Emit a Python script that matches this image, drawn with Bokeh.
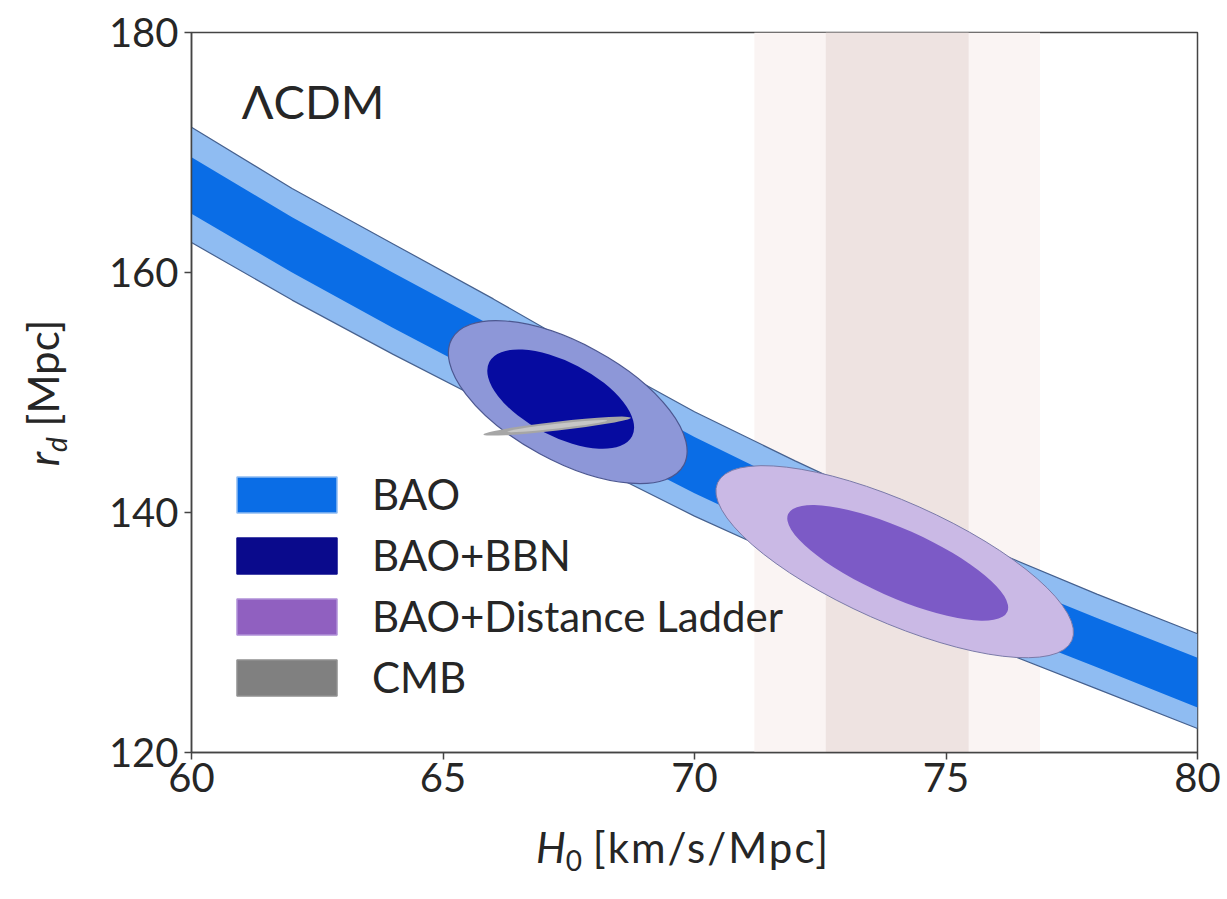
import numpy as np
from bokeh.plotting import figure
from bokeh.models import (ColumnDataSource, Label, BoxAnnotation, Legend, LegendItem,
                          Range1d, FixedTicker, Div)
from bokeh.layouts import row, column
from bokeh.embed import file_html
from bokeh.resources import INLINE

# ---------------- data ----------------
x_ticks = [60, 65, 70, 75, 80]
y_ticks = [120, 140, 160, 180]

# BAO band (H0 grid and the edges of the 1- and 2-sigma bands in rd)
h0_grid   = [60, 62, 64, 66, 68, 70, 72, 74, 76, 78, 80]
bao_2s_hi = [172.1, 167.0, 162.4, 157.8, 153.0, 148.4, 144.3, 140.4, 136.7, 133.2, 129.9]
bao_1s_hi = [169.6, 164.6, 160.0, 155.5, 150.8, 146.3, 142.2, 138.3, 134.6, 131.2, 127.9]
bao_1s_lo = [164.9, 160.0, 155.4, 151.0, 145.9, 141.6, 137.7, 133.9, 130.4, 127.1, 123.75]
bao_2s_lo = [162.5, 157.7, 153.2, 148.9, 143.9, 139.7, 135.9, 132.1, 128.6, 125.3, 122.0]

# confidence ellipses: [2-sigma, 1-sigma]
bbn_h0 = [67.48, 67.34]
bbn_rd = [149.2, 149.45]
bbn_w = [5.25, 3.2]
bbn_h = [9.8, 6.2]
bbn_ang = [-28.5, -27.5]

dl_h0 = [73.98, 74.04]
dl_rd = [135.9, 135.8]
dl_w = [7.71, 4.77]
dl_h = [10.0, 5.67]
dl_ang = [-24.0, -24.0]

cmb_h0 = [67.27, 67.27]
cmb_rd = [147.2, 147.2]
cmb_w = [2.95, 2.0]
cmb_h = [0.75, 0.40]
cmb_ang = [6.5, 6.5]

# distance ladder H0 (mean, sigma)
shoes_h0 = 74.03
shoes_sig = 1.42

legend_labels = ["BAO", "BAO+BBN", "BAO+Distance Ladder", "CMB"]

FONT = "Lato"
TXT = "#262626"

# ---------------- figure ----------------
p = figure(frame_width=1006, frame_height=720,
           x_range=Range1d(60, 80), y_range=Range1d(120, 180),
           output_backend="svg", toolbar_location=None,
           min_border_left=121, min_border_right=29,
           min_border_top=32, min_border_bottom=60, margin=0)
p.grid.visible = False
p.outline_line_color = "#444444"
p.outline_line_width = 1.5
p.background_fill_color = "white"

for ax in (p.xaxis[0], p.yaxis[0]):
    ax.axis_line_color = "#444444"
    ax.axis_line_width = 1.5
    ax.major_tick_line_color = "#444444"
    ax.major_tick_line_width = 1.5
    ax.major_tick_out = 7
    ax.major_tick_in = 0
    ax.minor_tick_line_color = None
    ax.major_label_text_font = FONT
    ax.major_label_text_font_size = "40px"
    ax.major_label_text_color = TXT
p.xaxis.ticker = FixedTicker(ticks=x_ticks)
p.yaxis.ticker = FixedTicker(ticks=y_ticks)
p.xaxis.major_label_standoff = 3
p.yaxis.major_label_standoff = 6

# distance ladder vertical bands
p.add_layout(BoxAnnotation(left=shoes_h0 - 2 * shoes_sig, right=shoes_h0 + 2 * shoes_sig,
                           fill_color="#faf4f3", fill_alpha=1, line_alpha=0, level="underlay"))
p.add_layout(BoxAnnotation(left=shoes_h0 - shoes_sig, right=shoes_h0 + shoes_sig,
                           fill_color="#eee3e1", fill_alpha=1, line_alpha=0, level="underlay"))

# BAO band
band = ColumnDataSource(dict(x=h0_grid, a=bao_2s_hi, b=bao_1s_hi, c=bao_1s_lo, d=bao_2s_lo))
p.varea(x="x", y1="d", y2="a", source=band, fill_color="#8fbcf2")
p.varea(x="x", y1="c", y2="b", source=band, fill_color="#0a6de6")
p.line(x="x", y="a", source=band, line_color="#46618f", line_width=1.2)
p.line(x="x", y="d", source=band, line_color="#46618f", line_width=1.2)


def ell(h0, rd, w, h, ang, i, fill, line=None, lw=1.0):
    src = ColumnDataSource(dict(x=[h0[i]], y=[rd[i]], w=[w[i]], h=[h[i]], a=[ang[i]]))
    p.ellipse(x="x", y="y", width="w", height="h", angle="a", angle_units="deg", source=src,
              fill_color=fill, line_color=line, line_width=lw)


# BAO + BBN
ell(bbn_h0, bbn_rd, bbn_w, bbn_h, bbn_ang, 0, "#8d97d8", "#4c5790", 1.2)
ell(bbn_h0, bbn_rd, bbn_w, bbn_h, bbn_ang, 1, "#060ba0")
# BAO + distance ladder
ell(dl_h0, dl_rd, dl_w, dl_h, dl_ang, 0, "#cab9e5", "#7a7aa8", 1.0)
ell(dl_h0, dl_rd, dl_w, dl_h, dl_ang, 1, "#7c5ac6")
# CMB
ell(cmb_h0, cmb_rd, cmb_w, cmb_h, cmb_ang, 0, "#a6a6a6")
ell(cmb_h0, cmb_rd, cmb_w, cmb_h, cmb_ang, 1, "#c6c6c6")

# legend proxies (one NaN row so the swatch is drawn but nothing lands in the frame)
leg_fill = ["#0a6de6", "#0a0a8c", "#9060c0", "#808080"]
leg_line = ["#8fbcf2", "#0a0a8c", "#b090d8", "#909090"]
items = []
for lab, fc, lc in zip(legend_labels, leg_fill, leg_line):
    r = p.quad(left=[np.nan], right=[np.nan], top=[np.nan], bottom=[np.nan],
               fill_color=fc, line_color=lc, line_width=1.5)
    items.append(LegendItem(label=lab, renderers=[r]))
legend = Legend(items=items, location=(33, 50), glyph_width=125, glyph_height=45,
                label_standoff=23, spacing=11, padding=0, margin=0,
                label_text_font=FONT, label_text_font_size="42px", label_text_color=TXT,
                background_fill_alpha=0, border_line_alpha=0)
p.add_layout(legend)

# model label
p.add_layout(Label(x=61.0, y=174.3, text="ΛCDM", text_font=FONT, text_font_size="47px",
                   text_color=TXT, text_baseline="middle"))

# ---------------- axis titles (HTML, for italic symbol + subscript) ----------------
base = f"font-family:{FONT};font-size:42px;color:{TXT};white-space:nowrap;line-height:1;"
sub = "font-size:28px;line-height:1;vertical-align:-0.3em;letter-spacing:0;"

xdiv = Div(width=1156, height=86, margin=0,
           text=(f'<div style="position:relative;width:1156px;height:86px;">'
                 f'<div style="position:absolute;left:466px;top:14px;{base}">'
                 f'<i>H</i><span style="{sub}">0</span> '
                 f'<span style="letter-spacing:2px;">[km/s/Mpc]</span></div></div>'))

ydiv = Div(width=70, height=898, margin=0,
           text=(f'<div style="position:relative;width:70px;height:898px;">'
                 f'<div style="position:absolute;left:46px;top:393px;'
                 f'transform:translate(-50%,-50%) rotate(-90deg);{base}">'
                 f'<i>r</i><span style="{sub}"><i>d</i></span> [Mpc]</div></div>'))

layout = row(ydiv, column(p, xdiv, spacing=0), spacing=0)

open("out.html", "w").write(file_html(layout, INLINE))
